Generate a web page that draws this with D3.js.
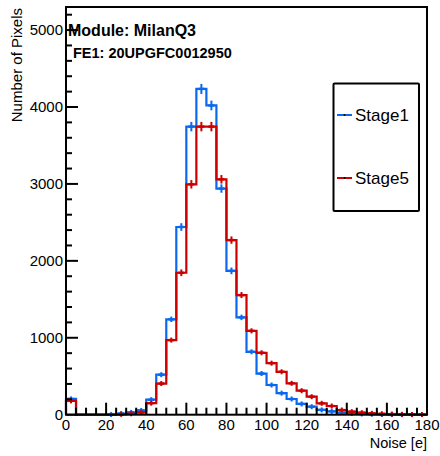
<!DOCTYPE html>
<html>
<head>
<meta charset="utf-8">
<script src="https://cdn.jsdelivr.net/npm/d3@7"></script>
<style>
html,body{margin:0;padding:0;background:#fff;}
svg{display:block;font-family:"Liberation Sans",Arial,Helvetica,sans-serif;}
</style>
</head>
<body>
<svg id="chart" width="440" height="456"></svg>
<script>
// Bin lower edges (width 5) from 0 to 175
const binEdges = d3.range(0, 185, 5);
const stage1 = [205,0,0,0,2,15,30,55,195,520,1240,2440,3745,4235,4020,2940,1870,1265,818,535,386,280,204,140,104,62,44,28,16,10,6,3,2,1,1,0];
const stage5 = [180,0,0,0,0,5,12,30,150,405,970,1845,2995,3745,3745,3060,2270,1555,1090,805,670,558,408,312,234,148,113,61,39,26,18,12,8,5,3,2];
const seriesNames = ["Stage1","Stage5"];
const seriesColors = ["#0a68f0","#cc0000"];
const xTicks = [0,20,40,60,80,100,120,140,160,180];
const yTicks = [0,1000,2000,3000,4000,5000];
const titleText = "Module: MilanQ3";
const subtitleText = "FE1: 20UPGFC0012950";
const xTitle = "Noise [e]";
const yTitle = "Number of Pixels";

const svg = d3.select("#chart");
const L = 66, R = 427, T = 7, B = 414.7;
const x = d3.scaleLinear().domain([0,180]).range([L,R]);
const y = d3.scaleLinear().domain([0,5300]).range([B,T]);

svg.append("rect").attr("width",440).attr("height",456).attr("fill","#fff");

// histograms
function stepPath(vals){
  let p = `M${x(0)},${y(0)}`;
  vals.forEach((v,i)=>{
    p += `L${x(binEdges[i])},${y(v)}L${x(binEdges[i+1])},${y(v)}`;
  });
  p += `L${x(binEdges[vals.length])},${y(0)}`;
  return p;
}
[stage1, stage5].forEach((vals, si)=>{
  const g = svg.append("g");
  g.append("path").attr("d", stepPath(vals)).attr("fill","none")
    .attr("stroke", seriesColors[si]).attr("stroke-width",2.2).attr("stroke-linejoin","miter");
  vals.forEach((v,i)=>{
    if (v<=0) return;
    const cx = x(binEdges[i]+2.5);
    const e = Math.sqrt(v);
    let y1 = y(v+e), y2 = y(v-e);
    if (y2 - y1 < 5) { const c = y(v); y1 = c-2.5; y2 = c+2.5; }
    g.append("line").attr("x1",cx).attr("x2",cx).attr("y1",y1).attr("y2",y2)
      .attr("stroke",seriesColors[si]).attr("stroke-width",2);
    g.append("line").attr("x1",cx-3).attr("x2",cx+3).attr("y1",y(v)).attr("y2",y(v))
      .attr("stroke",seriesColors[si]).attr("stroke-width",2.4);
  });
});

// frame
svg.append("rect").attr("x",L).attr("y",T).attr("width",R-L).attr("height",B-T)
  .attr("fill","none").attr("stroke","#000").attr("stroke-width",2);

// y axis ticks (inside)
const yMinor = d3.range(0, 5300, 200);
yMinor.forEach(v=>{
  const major = v % 1000 === 0;
  svg.append("line").attr("x1",L).attr("x2",L+(major?12:6)).attr("y1",y(v)).attr("y2",y(v))
    .attr("stroke","#000").attr("stroke-width",2);
});
svg.selectAll("text.ytick").data(yTicks).enter().append("text").attr("class","ytick")
  .attr("x",L-3).attr("y",d=>y(d)).attr("dy","0.36em").attr("text-anchor","end")
  .attr("font-size",15).attr("fill","#000").text(d=>d);

// x axis ticks (inside)
d3.range(0, 181, 5).forEach(v=>{
  const major = v % 20 === 0;
  svg.append("line").attr("x1",x(v)).attr("x2",x(v)).attr("y1",B).attr("y2",B-(major?12:7))
    .attr("stroke","#000").attr("stroke-width",2);
});
svg.selectAll("text.xtick").data(xTicks).enter().append("text").attr("class","xtick")
  .attr("x",d=>x(d)).attr("y",B+15.5).attr("text-anchor","middle")
  .attr("font-size",15).attr("fill","#000").text(d=>d);

// axis titles
svg.append("text").attr("x",R).attr("y",447.5).attr("text-anchor","end")
  .attr("font-size",14.5).attr("fill","#000").text(xTitle);
svg.append("text").attr("transform","translate(22,8) rotate(-90)").attr("text-anchor","end")
  .attr("font-size",15).attr("fill","#000").text(yTitle);

// titles
svg.append("text").attr("x",68).attr("y",36).attr("font-size",16).attr("font-weight","bold")
  .attr("fill","#000").text(titleText);
svg.append("text").attr("x",73).attr("y",58).attr("font-size",14.5).attr("font-weight","bold")
  .attr("fill","#000").text(subtitleText);

// legend
const lg = svg.append("g");
lg.append("rect").attr("x",333.5).attr("y",83.5).attr("width",85.5).attr("height",127.5)
  .attr("fill","#fff").attr("stroke","#000").attr("stroke-width",2).attr("rx",1);
const legY = [115, 178];
seriesNames.forEach((n,i)=>{
  lg.append("line").attr("x1",337).attr("x2",352).attr("y1",legY[i]).attr("y2",legY[i])
    .attr("stroke",seriesColors[i]).attr("stroke-width",2);
  lg.append("circle").attr("cx",344.5).attr("cy",legY[i]).attr("r",0.9).attr("fill","#000");
  lg.append("text").attr("x",355).attr("y",legY[i]).attr("dy","0.36em")
    .attr("font-size",17).attr("fill","#000").text(n);
});
</script>
</body>
</html>
